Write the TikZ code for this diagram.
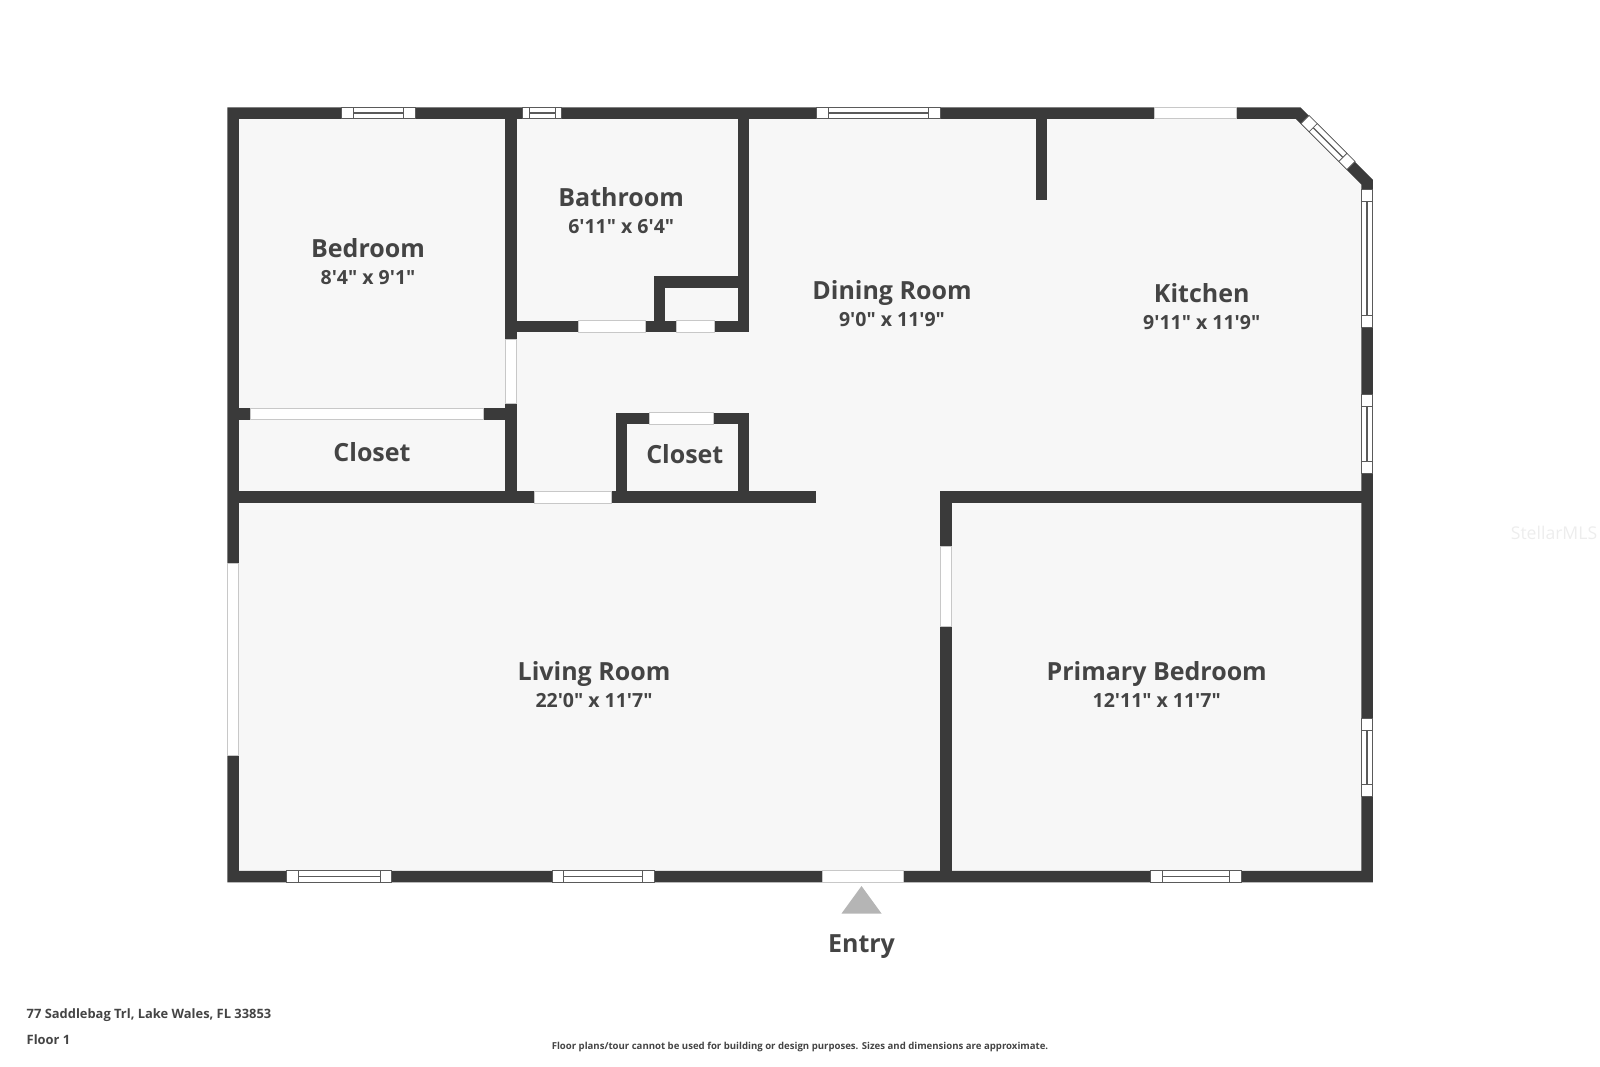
\documentclass[tikz,border=0pt]{standalone}
\usepackage{fontspec}
\newfontfamily\planfont{Open Sans}

\definecolor{wallgray}{HTML}{3A3A3A}
\definecolor{floorgray}{HTML}{F7F7F7}
\definecolor{edgegray}{HTML}{C8C8C8}
\definecolor{panegray}{HTML}{5A5A5A}
\definecolor{markgray}{HTML}{B5B5B5}
\definecolor{textgray}{HTML}{444444}
\definecolor{stampgray}{HTML}{EDEDED}

\tikzset{
	wall/.style={line width=11.5, color=wallgray, miter limit=10},
	door/.style={fill=white, draw=edgegray, line width=0.8},
	pane/.style={fill=white, draw=panegray, line width=0.8},
	roomname/.style={anchor=base, text=textgray, font=\planfont\bfseries\fontsize{25}{25}\selectfont},
	roomsize/.style={anchor=base, text=textgray, font=\planfont\bfseries\fontsize{19.5}{19.5}\selectfont},
	footnote/.style={inner sep=0, text=textgray, font=\planfont\bfseries\fontsize{12.9}{12.9}\selectfont},
}

\begin{document}
\begin{tikzpicture}[x=1pt, y=-1pt]
	\useasboundingbox (0, 0) rectangle (1600, 1066);
	% floor
	\fill[floorgray] (233, 113) -- (1298, 113) -- (1367, 182) -- (1367, 876.5) -- (233, 876.5) -- cycle;
	% outer walls
	\draw[wall] (233, 113) -- (1298, 113) -- (1367, 182) -- (1367, 876.5) -- (233, 876.5) -- cycle;
	% inner walls
	\draw[wall] (511, 113) -- (511, 497);
	\draw[wall] (743.5, 113) -- (743.5, 332);
	\draw[wall] (511, 326.3) -- (749.25, 326.3);
	\draw[wall] (659.5, 326) -- (659.5, 282) -- (743.5, 282);
	\draw[wall] (233, 413.8) -- (511, 413.8);
	\draw[wall] (233, 497.2) -- (816, 497.2);
	\draw[wall] (743.5, 497) -- (743.5, 418.3) -- (621.5, 418.3) -- (621.5, 497);
	\draw[wall] (1041.4, 113) -- (1041.4, 200);
	\draw[wall] (946, 876.5) -- (946, 497.2) -- (1367, 497.2);
	% doors
	\foreach \xa/\ya/\xb/\yb in {1154.3/107.3/1236/118.8, 578/320.6/645.7/332, 676.8/320.6/714.3/332,
		505.3/339/516.8/403.3, 250.4/408/482.9/419.5, 649.3/412.6/712.9/424, 534/491.5/611.8/503,
		940.2/546/951.7/626, 227.2/563/238.8/755, 822/870.8/903/882.3}
		\draw[door] (\xa, \ya) rectangle (\xb, \yb);
	% windows
	\foreach \cx/\cy/\len/\capw/\rot in {378.5/113/74.3/12/0, 542.3/113/39/6.5/0, 878.5/113/124.5/12/0,
		339.2/876.5/105/11.5/0, 603/876.5/102/11.5/0, 1195.5/876.5/91/12/0,
		1367/258.3/138/12/90, 1367/433.6/79.3/12/90, 1367/757.5/78.4/12/90,
		1328/142.5/65/11.5/-45} {
		\begin{scope}[shift={(\cx, \cy)}, rotate=\rot]
			\draw[pane] (-\len/2, -5.75) rectangle (\len/2, 5.75);
			\draw[pane] (-\len/2+\capw, -5.75) rectangle (\len/2-\capw, 5.75);
			\draw[pane, line width=1.2] (-\len/2+\capw, 0) -- (\len/2-\capw, 0);
		\end{scope}
	}
	% rooms
	\node (bedroom) at (368, 257.3) [roomname] {Bedroom};
	\node (bedroomsize) at (368, 284.2) [roomsize] {8'4" x 9'1"};
	\node (bathroom) at (621.2, 206) [roomname] {Bathroom};
	\node (bathroomsize) at (621.2, 233.3) [roomsize] {6'11" x 6'4"};
	\node (dining) at (892, 299.5) [roomname] {Dining Room};
	\node (diningsize) at (892, 326.3) [roomsize] {9'0" x 11'9"};
	\node (kitchen) at (1201.7, 302.5) [roomname] {Kitchen};
	\node (kitchensize) at (1201.7, 329.3) [roomsize] {9'11" x 11'9"};
	\node (closetw) at (372, 461) [roomname] {Closet};
	\node (closete) at (684.8, 463.3) [roomname] {Closet};
	\node (living) at (594, 680.5) [roomname] {Living Room};
	\node (livingsize) at (594, 707.5) [roomsize] {22'0" x 11'7"};
	\node (primary) at (1156.7, 680.5) [roomname] {Primary Bedroom};
	\node (primarysize) at (1156.7, 707.5) [roomsize] {12'11" x 11'7"};
	% entry
	\fill[markgray] (861.5, 886) -- (881.5, 913.5) -- (841.5, 913.5) -- cycle;
	\node (entry) at (861.5, 952.8) [roomname] {Entry};
	% footer
	\node (address) at (26.5, 1018.3) [footnote, anchor=base west] {77 Saddlebag Trl, Lake Wales, FL 33853};
	\node (floor) at (26.5, 1044) [footnote, anchor=base west] {Floor 1};
	\node (disclaimer) at (800, 1049) [footnote, anchor=base, font=\planfont\bfseries\fontsize{9.6}{9.6}\selectfont] {Floor plans/tour cannot be used for building or design purposes. Sizes and dimensions are approximate.};
	\node (stamp) at (1554, 532.6) [text=stampgray, font=\planfont\fontsize{17.6}{17.6}\selectfont] {StellarMLS};
\end{tikzpicture}
\end{document}
